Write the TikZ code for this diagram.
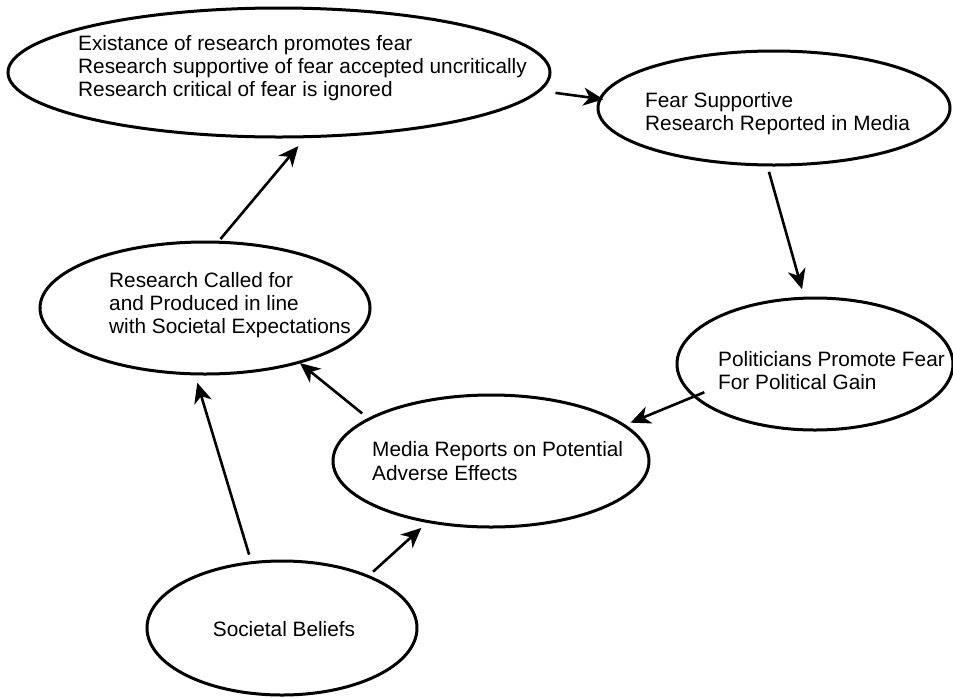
\documentclass[tikz,border=0pt]{standalone}
\usepackage{fontspec}
\setmainfont{Liberation Sans}
\usetikzlibrary{shapes.geometric,arrows.meta}
\begin{document}
\begin{tikzpicture}[x=1pt,y=-1pt,
  ell/.style={draw, ellipse, line width=3pt, inner sep=0pt, outer sep=0pt},
  txt/.style={align=left, inner sep=0pt, font=\fontsize{20.8}{23}\selectfont, anchor=base west},
  arr/.style={-{Stealth[length=20pt,width=18pt,inset=6pt]}, line width=2.6pt}]
\useasboundingbox (0,0) rectangle (953,697);
\fill[white] (0,0) rectangle (953,697);
% ellipses
\node[ell, minimum width=542pt, minimum height=129pt] (top) at (279,72.5) {};
\node[ell, minimum width=352pt, minimum height=114pt] (fear) at (774,108) {};
\node[ell, minimum width=276pt, minimum height=132pt] (pol) at (815,364) {};
\node[ell, minimum width=330pt, minimum height=132pt] (research) at (205,308) {};
\node[ell, minimum width=316pt, minimum height=132pt] (media) at (491,461) {};
\node[ell, minimum width=270pt, minimum height=134pt] (soc) at (282,628) {};
% texts (anchor at baseline of last line)
\node[txt] (toptext) at (78,96.5) {Existance of research promotes fear\\Research supportive of fear accepted uncritically\\Research critical of fear is ignored};
\node[txt] (feartext) at (645,130) {Fear Supportive\\Research Reported in Media};
\node[txt] (poltext) at (718,389) {Politicians Promote Fear\\For Political Gain};
\node[txt] (researchtext) at (109,333) {Research Called for\\and Produced in line\\with Societal Expectations};
\node[txt, font=\fontsize{20.8}{24}\selectfont] (mediatext) at (372,480) {Media Reports on Potential\\Adverse Effects};
\node[txt, anchor=base] (soctext) at (284,636) {Societal Beliefs};
% arrows
\draw[arr, shorten <=16.6pt, shorten >=-3.2pt] (top.-4.6) -- (fear.177.3);
\draw[arr, shorten <=7.1pt, shorten >=9.3pt] (fear.-97.1) -- (pol.99.1);
\draw[arr, shorten <=-10.5pt, shorten >=7.1pt] (pol.-165.4) -- (media.15.3);
\draw[arr, shorten <=8.9pt, shorten >=1.4pt] (media.161.6) -- (research.-30.1);
\draw[arr, shorten <=4.2pt, shorten >=12.3pt] (research.79.5) -- (top.-67.5);
\draw[arr, shorten <=8.5pt, shorten >=9.3pt] (soc.115) -- (research.-99.8);
\draw[arr, shorten <=6.9pt, shorten >=9.4pt] (soc.31.9) -- (media.-136.3);
\end{tikzpicture}
\end{document}
